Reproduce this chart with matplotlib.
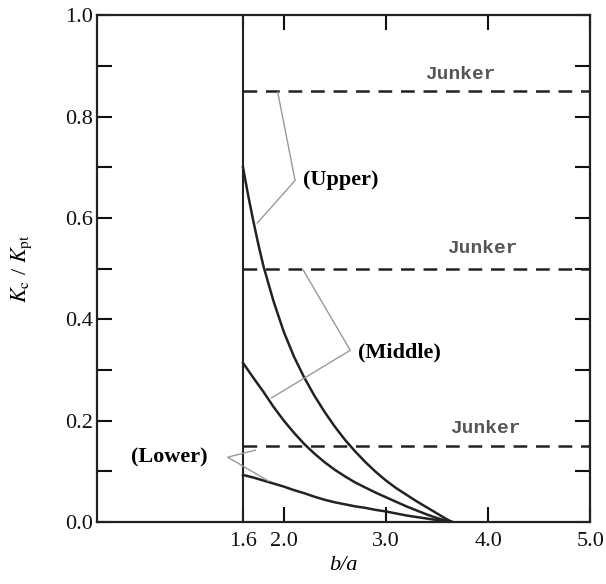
import matplotlib.pyplot as plt
from matplotlib.ticker import MultipleLocator

plt.rcParams['font.family'] = ['Liberation Serif', 'DejaVu Serif']
plt.rcParams['mathtext.fontset'] = 'stix'

# data
b_a_start = 1.6
junker = [0.85, 0.50, 0.15]

upper_x = [1.60, 1.65, 1.70, 1.75, 1.80, 1.90, 2.00, 2.10, 2.20, 2.30, 2.40, 2.50,
           2.60, 2.70, 2.80, 2.90, 3.00, 3.10, 3.20, 3.30, 3.40, 3.50, 3.60, 3.65]
upper_y = [0.700, 0.645, 0.595, 0.548, 0.505, 0.435, 0.375, 0.326, 0.285, 0.249, 0.217, 0.188,
           0.162, 0.139, 0.118, 0.099, 0.082, 0.067, 0.054, 0.041, 0.029, 0.017, 0.005, 0.0]

middle_x = [1.60, 1.70, 1.80, 1.90, 2.00, 2.10, 2.20, 2.30, 2.40, 2.50, 2.60,
            2.70, 2.80, 2.90, 3.00, 3.10, 3.20, 3.30, 3.40, 3.50, 3.60, 3.65]
middle_y = [0.314, 0.285, 0.257, 0.227, 0.200, 0.176, 0.154, 0.135, 0.118, 0.103, 0.090,
            0.078, 0.068, 0.058, 0.049, 0.040, 0.031, 0.023, 0.015, 0.008, 0.002, 0.0]

lower_x = [1.60, 1.70, 1.80, 1.90, 2.00, 2.10, 2.20, 2.30, 2.40, 2.50, 2.60,
           2.70, 2.80, 2.90, 3.00, 3.10, 3.20, 3.30, 3.40, 3.50, 3.60, 3.65]
lower_y = [0.093, 0.088, 0.082, 0.076, 0.070, 0.063, 0.057, 0.050, 0.044, 0.039, 0.035,
           0.031, 0.028, 0.024, 0.021, 0.017, 0.013, 0.010, 0.007, 0.004, 0.001, 0.0]

x_ticks = [1.6, 2.0, 3.0, 4.0, 5.0]
x_ticklabels = ['1.6', '2.0', '3.0', '4.0', '5.0']

# leader lines of the labels
lead_upper = ([1.94, 2.11, 1.74], [0.848, 0.674, 0.590])
lead_middle = ([2.19, 2.65, 1.88], [0.497, 0.339, 0.245])
lead_lower = ([1.72, 1.45, 1.85], [0.142, 0.128, 0.081])

fig = plt.figure(figsize=(6.06, 5.84), dpi=100)
ax = fig.add_axes([0.160, 0.106, 0.814, 0.868])

ax.axvline(b_a_start, color='#222', lw=1.5)
for y in junker:
    ax.plot([b_a_start, 5.0], [y, y], color='#222', lw=1.8, dashes=(5.5, 3.5))

for xs, ys in [(upper_x, upper_y), (middle_x, middle_y), (lower_x, lower_y)]:
    ax.plot(xs, ys, color='#222', lw=1.8, solid_joinstyle='round')

for xs, ys in [lead_upper, lead_middle, lead_lower]:
    ax.plot(xs, ys, color='#999', lw=1.0)

jfont = dict(family='Liberation Mono', fontsize=14, fontweight='bold', color='#555',
             ha='center', va='center')
ax.text(3.73, 0.882, 'Junker', **jfont)
ax.text(3.94, 0.54, 'Junker', **jfont)
ax.text(3.97, 0.185, 'Junker', **jfont)

ax.text(2.19, 0.675, '(Upper)', fontsize=16, fontweight='bold', va='center', ha='left')
ax.text(2.73, 0.335, '(Middle)', fontsize=16, fontweight='bold', va='center', ha='left')
ax.text(0.88, 0.128, '(Lower)', fontsize=16, fontweight='bold', va='center', ha='center',
        bbox=dict(facecolor='white', edgecolor='none', pad=6))

ax.set_xlim(0.17, 5.0)
ax.set_ylim(0.0, 1.0)

ax.set_xticks(x_ticks)
ax.set_xticklabels(x_ticklabels)
ax.yaxis.set_major_locator(MultipleLocator(0.2))
ax.yaxis.set_minor_locator(MultipleLocator(0.1))
ax.yaxis.set_major_formatter(plt.FormatStrFormatter('%.1f'))

ax.tick_params(axis='both', which='both', direction='in', length=11, width=1.5,
               top=True, right=True, labelsize=16, colors='#111')
ax.tick_params(axis='y', pad=3)
ax.tick_params(axis='x', pad=7)

for s in ax.spines.values():
    s.set_linewidth(1.6)
    s.set_color('#222')

ax.set_ylabel(r'$K_{\rm c}$ / $K_{\rm pt}$', fontsize=16, labelpad=22)
ax.set_xlabel('b/a', fontsize=16, fontstyle='italic', labelpad=4)

fig.savefig('out.png', dpi=100)
